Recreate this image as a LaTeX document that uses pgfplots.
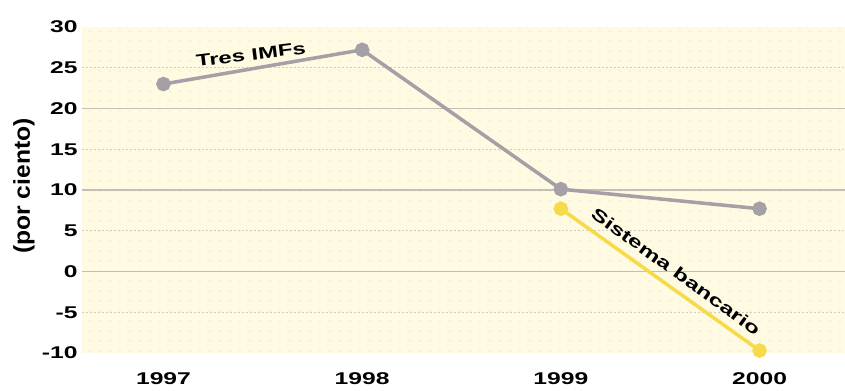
\documentclass[border=0pt]{standalone}
\usepackage{pgfplots}
\pgfplotsset{compat=1.18}
\usepackage{fontspec}
\setmainfont{Liberation Sans}[FakeStretch=1.45]
\usetikzlibrary{patterns.meta}
\definecolor{bgyel}{HTML}{FFFAE2}
\definecolor{dotpink}{HTML}{F2C4BC}
\definecolor{imfgray}{HTML}{A59FA6}
\definecolor{bancyel}{HTML}{F7DA48}
\definecolor{gridgray}{HTML}{C4BFB5}
\begin{document}
\begin{tikzpicture}[x=1pt,y=1pt]
\begin{axis}[
  name=ax,
  scale only axis,
  width=763pt, height=326pt,
  xmin=-0.41, xmax=3.43,
  ymin=-10, ymax=30,
  axis line style={draw=none},
  tick style={draw=none},
  xtick={0,1,2,3},
  xticklabels={1997,1998,1999,2000},
  ytick={0,10,20},
  minor ytick={-5,5,15,25},
  extra y ticks={-10,-5,5,15,25,30},
  extra y tick style={grid=none},
  ymajorgrids, yminorgrids,
  major grid style={gridgray, line width=1.6pt},
  minor grid style={gridgray!80, line width=1.1pt, dash pattern=on 2pt off 2pt},
  /pgf/number format/assume math mode=true,
  ticklabel style={font=\fontsize{17}{18}\selectfont\bfseries},
  yticklabel style={xshift=-1pt},
  xticklabel style={yshift=-16pt},
  ylabel={(por ciento)},
  ylabel style={font=\fontsize{17}{18}\selectfont\bfseries, at={(rel axis cs:0,0.5)}, anchor=center, yshift=58pt, xshift=4pt, yscale=1.35},
  axis background/.style={fill=bgyel, postaction={pattern={Dots[distance=10pt, radius=0.7pt]}, pattern color=dotpink}},
  clip=false,
]
\addplot[imfgray, line width=3.5pt, mark=*, mark size=5.5pt, mark options={fill=imfgray, draw=imfgray}]
  coordinates {(0,23) (1,27.2) (2,10.1) (3,7.7)};
\addplot[bancyel, line width=3.5pt, mark=*, mark size=5.5pt, mark options={fill=bancyel, draw=bancyel}]
  coordinates {(2,7.7) (3,-9.7)};
\node[rotate=7, font=\fontsize{16.5}{18}\selectfont\bfseries] at (axis cs:0.44,26.6) {Tres IMFs};
\node[rotate=-36, font=\fontsize{17}{18}\selectfont\bfseries] at (axis cs:2.58,0.0) {Sistema bancario};
\end{axis}
\pgfresetboundingbox
\path ([shift={(-82pt,-38pt)}]ax.south west) rectangle ([shift={(0pt,27pt)}]ax.north east);
\end{tikzpicture}
\end{document}
